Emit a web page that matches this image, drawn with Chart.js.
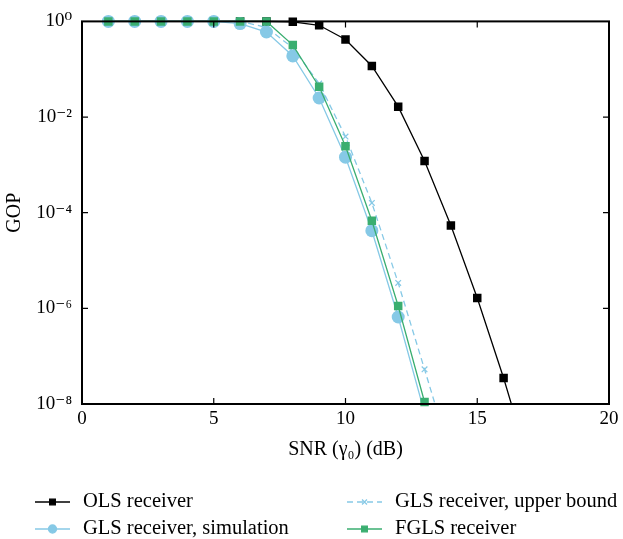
<!DOCTYPE html>
<html>
<head>
<meta charset="utf-8">
<script src="https://cdn.jsdelivr.net/npm/chart.js@4/dist/chart.umd.min.js"></script>
<style>
  html, body { margin: 0; padding: 0; background: #fff; }
  #wrap { width: 623px; height: 539px; }
</style>
</head>
<body>
<div id="wrap"><canvas id="chart" width="623" height="539"></canvas></div>
<script>
// values
const snrOLS   = [1, 2, 3, 4, 5, 6, 7, 8, 9, 10, 11, 12, 13, 14, 15, 16, 17];
const gopOLS   = [1, 1, 1, 1, 1, 1, 1, 0.98, 0.83, 0.42, 0.117, 0.0165, 1.2e-3, 5.4e-5, 1.65e-6, 3.5e-8, 5e-10];
const snrSim   = [1, 2, 3, 4, 5, 6, 7, 8, 9, 10, 11, 12, 13];
const gopSim   = [1, 1, 1, 1, 1, 0.9, 0.6, 0.19, 0.025, 1.45e-3, 4.2e-5, 6.6e-7, 6.5e-9];
const snrBound = [1, 2, 3, 4, 5, 6, 7, 8, 9, 10, 11, 12, 13, 14];
const gopBound = [1, 1, 1, 1, 1, 1, 0.75, 0.28, 0.05, 3.9e-3, 1.6e-4, 3.4e-6, 5.3e-8, 8e-10];
const snrFGLS  = [1, 2, 3, 4, 5, 6, 7, 8, 9, 10, 11, 12, 13];
const gopFGLS  = [1, 1, 1, 1, 1, 1, 1, 0.32, 0.043, 2.45e-3, 6.8e-5, 1.12e-6, 1.1e-8];
const xTicks = [0, 5, 10, 15, 20];
const yTicks = [1e-8, 1e-6, 1e-4, 1e-2, 1];
const yTickLabels = ['10\u207B\u2078', '10\u207B\u2076', '10\u207B\u2074', '10\u207B\u00B2', '10\u2070'];

const pts = (xs, ys) => xs.map((x, i) => ({x: x, y: ys[i]}));
const FONT = "'Liberation Serif', 'DejaVu Serif', serif";
const BLUE = '#86c9e6';
const GREEN = '#3aae70';

const frameTicks = {
  id: 'frameTicks',
  afterDraw(chart) {
    const {ctx, chartArea: a, scales} = chart;
    ctx.save();
    ctx.strokeStyle = '#000';
    ctx.lineWidth = 1.2;
    xTicks.slice(1, -1).forEach(v => {
      const px = scales.x.getPixelForValue(v);
      ctx.beginPath();
      ctx.moveTo(px, a.bottom); ctx.lineTo(px, a.bottom - 6);
      ctx.moveTo(px, a.top); ctx.lineTo(px, a.top + 6);
      ctx.stroke();
    });
    yTicks.slice(1, -1).forEach(v => {
      const py = scales.y.getPixelForValue(v);
      ctx.beginPath();
      ctx.moveTo(a.left, py); ctx.lineTo(a.left + 6, py);
      ctx.moveTo(a.right, py); ctx.lineTo(a.right - 6, py);
      ctx.stroke();
    });
    ctx.lineWidth = 2;
    ctx.strokeRect(a.left, a.top, a.right - a.left, a.bottom - a.top);

    // legend, two columns like the figure
    const slots = [[35, 502], [35, 529], [347, 502], [347, 529]];
    ctx.font = '20.5px ' + FONT;
    ctx.textBaseline = 'middle';
    chart.data.datasets.forEach((ds, i) => {
      const [lx, ly] = slots[i];
      ctx.save();
      ctx.strokeStyle = ds.borderColor;
      ctx.fillStyle = ds.backgroundColor;
      ctx.lineWidth = ds.borderWidth;
      ctx.setLineDash(ds.borderDash || []);
      ctx.beginPath(); ctx.moveTo(lx, ly); ctx.lineTo(lx + 35, ly); ctx.stroke();
      ctx.setLineDash([]);
      Chart.helpers.drawPoint(ctx, {
        pointStyle: ds.pointStyle, radius: ds.legendRadius, borderWidth: 1.2, rotation: 0
      }, lx + 17.5, ly);
      ctx.restore();
      ctx.fillStyle = '#000';
      ctx.fillText(ds.label, lx + 48, ly);
    });
    ctx.restore();
  }
};

function style(color, shape, r, order, dash) {
  return {
    borderColor: color, backgroundColor: color,
    pointBackgroundColor: color, pointBorderColor: color,
    borderWidth: 1.3, pointStyle: shape, pointRadius: r, pointBorderWidth: shape === 'crossRot' ? 1.2 : 0,
    borderDash: dash || [], order: order, legendRadius: shape === 'crossRot' ? 3.5 : 4,
    clip: {left: 8, top: 8, right: 8, bottom: order === 1 ? 8 : 0}
  };
}

new Chart(document.getElementById('chart'), {
  type: 'line',
  data: {
    datasets: [
      Object.assign({label: 'OLS receiver', data: pts(snrOLS, gopOLS)}, style('#000000', 'rect', 6, 4)),
      Object.assign({label: 'GLS receiver, simulation', data: pts(snrSim, gopSim)}, style(BLUE, 'circle', 6.5, 3)),
      Object.assign({label: 'GLS receiver, upper bound', data: pts(snrBound, gopBound)}, style(BLUE, 'crossRot', 4, 2, [6, 4])),
      Object.assign({label: 'FGLS receiver', data: pts(snrFGLS, gopFGLS)}, style(GREEN, 'rect', 6, 1))
    ]
  },
  options: {
    responsive: false,
    animation: false,
    layout: {padding: {top: 18, right: 14, left: 0, bottom: 0}},
    plugins: {legend: {display: false}, tooltip: {enabled: false}},
    scales: {
      x: {
        type: 'linear', min: 0, max: 20,
        afterBuildTicks: s => { s.ticks = xTicks.map(v => ({value: v})); },
        afterFit: s => { s.height = 135; },
        grid: {display: false, drawTicks: false},
        border: {display: false},
        ticks: {color: '#000', font: {family: FONT, size: 19}, padding: 4, maxRotation: 0},
        title: {display: true, text: 'SNR (\u03B3\u2080) (dB)', color: '#000',
                font: {family: FONT, size: 20}, padding: {top: 0, bottom: 77}}
      },
      y: {
        type: 'logarithmic', min: 1e-8, max: 1,
        afterBuildTicks: s => { s.ticks = yTicks.map(v => ({value: v})); },
        afterFit: s => { s.width = 82; },
        grid: {display: false, drawTicks: false},
        border: {display: false},
        ticks: {color: '#000', font: {family: FONT, size: 19}, padding: 10,
                callback: (v) => yTickLabels[yTicks.findIndex(t => Math.abs(Math.log10(t) - Math.log10(v)) < 1e-6)]},
        title: {display: true, text: 'GOP', color: '#000',
                font: {family: FONT, size: 20}, padding: {top: 3, bottom: 0}}
      }
    }
  },
  plugins: [frameTicks]
});
</script>
</body>
</html>
